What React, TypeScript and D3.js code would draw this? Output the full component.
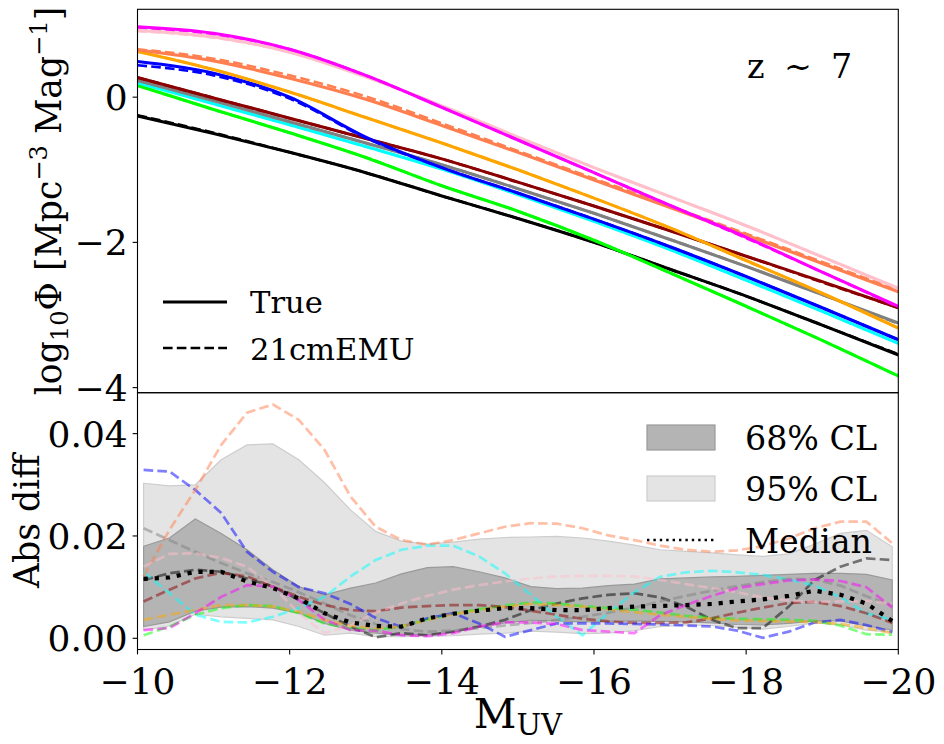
import React from "react";
import * as d3 from "d3";

// ---------- data ----------
// upper panel: log10 Phi at integer M_UV
const muvTop = [-10, -11, -12, -13, -14, -15, -16, -17, -18, -19, -20];

const trueMagenta = [0.97, 0.88, 0.66, 0.3, -0.14, -0.59, -1.04, -1.49, -1.93, -2.41, -2.88];
const truePink = [0.92, 0.83, 0.62, 0.28, -0.12, -0.55, -0.97, -1.37, -1.77, -2.2, -2.63];
const trueCoral = [0.65, 0.5, 0.26, -0.03, -0.39, -0.76, -1.14, -1.52, -1.9, -2.29, -2.68];
const trueOrange = [0.63, 0.38, 0.07, -0.28, -0.63, -1.0, -1.39, -1.8, -2.25, -2.7, -3.18];
const trueBlue = [0.49, 0.33, 0.0, -0.55, -0.97, -1.32, -1.68, -2.06, -2.47, -2.9, -3.34];
const trueMaroon = [0.27, -0.01, -0.29, -0.57, -0.85, -1.17, -1.5, -1.84, -2.19, -2.54, -2.9];
const trueGray = [0.23, -0.05, -0.34, -0.63, -0.93, -1.26, -1.6, -1.96, -2.33, -2.72, -3.11];
const trueCyan = [0.2, -0.09, -0.38, -0.68, -0.99, -1.34, -1.71, -2.1, -2.52, -2.95, -3.39];
const trueLime = [0.16, -0.17, -0.49, -0.83, -1.22, -1.57, -1.97, -2.42, -2.88, -3.35, -3.84];
const trueBlack = [-0.26, -0.5, -0.76, -1.04, -1.36, -1.67, -2.0, -2.37, -2.74, -3.14, -3.55];

const emuMagenta = [0.96, 0.87, 0.66, 0.3, -0.14, -0.59, -1.04, -1.49, -1.94, -2.41, -2.89];
const emuPink = [0.91, 0.82, 0.62, 0.28, -0.12, -0.55, -0.97, -1.37, -1.77, -2.2, -2.64];
const emuCoral = [0.66, 0.53, 0.3, 0.01, -0.36, -0.74, -1.12, -1.5, -1.88, -2.27, -2.66];
const emuOrange = [0.63, 0.38, 0.07, -0.28, -0.63, -1.0, -1.39, -1.8, -2.25, -2.7, -3.18];
const emuBlue = [0.44, 0.3, -0.02, -0.56, -0.97, -1.32, -1.68, -2.06, -2.47, -2.9, -3.34];
const emuMaroon = [0.27, -0.01, -0.29, -0.57, -0.85, -1.17, -1.5, -1.84, -2.19, -2.55, -2.9];
const emuGray = [0.24, -0.04, -0.34, -0.63, -0.93, -1.26, -1.6, -1.96, -2.33, -2.72, -3.12];
const emuCyan = [0.21, -0.09, -0.38, -0.68, -0.99, -1.34, -1.71, -2.1, -2.52, -2.95, -3.39];
const emuLime = [0.16, -0.17, -0.49, -0.83, -1.22, -1.57, -1.97, -2.42, -2.88, -3.35, -3.84];
const emuBlack = [-0.25, -0.49, -0.76, -1.04, -1.36, -1.67, -2.0, -2.37, -2.74, -3.14, -3.54];

// lower panel: abs diff on the emulator grid
const muvDiff = [
  -10.08, -10.42, -10.76, -11.1, -11.44, -11.78, -12.12, -12.46, -12.8, -13.13,
  -13.47, -13.81, -14.15, -14.49, -14.83, -15.17, -15.51, -15.85, -16.19, -16.53,
  -16.87, -17.21, -17.55, -17.88, -18.22, -18.56, -18.9, -19.24, -19.58, -19.92,
];

const diffCoral = [0.0121, 0.0212, 0.029, 0.0378, 0.0441, 0.0457, 0.0427, 0.0368, 0.0277, 0.0218, 0.0192, 0.0183, 0.0192, 0.0205, 0.0218, 0.0225, 0.0224, 0.0215, 0.0201, 0.0192, 0.0181, 0.0173, 0.0169, 0.0172, 0.018, 0.0195, 0.0215, 0.0228, 0.0228, 0.0186];
const diffBlue = [0.0329, 0.0326, 0.029, 0.0245, 0.0169, 0.013, 0.01, 0.0088, 0.0067, 0.004, 0.0022, 0.0039, 0.0049, 0.0029, 0.0003, 0.0016, 0.0029, 0.0029, 0.0029, 0.0028, 0.0027, 0.0025, 0.0023, 0.0015, 0.0001, 0.0013, 0.0031, 0.0036, 0.0026, 0.0012];
const diffCyan = [0.013, 0.0088, 0.0046, 0.0032, 0.0031, 0.0042, 0.0059, 0.0081, 0.0121, 0.0153, 0.0173, 0.0181, 0.0181, 0.016, 0.0127, 0.0085, 0.0042, 0.0006, 0.005, 0.009, 0.012, 0.0129, 0.0132, 0.0129, 0.0124, 0.0115, 0.0103, 0.008, 0.0049, 0.0036];
const diffGray = [0.0215, 0.0192, 0.0169, 0.0147, 0.0127, 0.011, 0.009, 0.0068, 0.0045, 0.0028, 0.0018, 0.0013, 0.0015, 0.002, 0.0025, 0.003, 0.0036, 0.0042, 0.005, 0.006, 0.0072, 0.0083, 0.0093, 0.0102, 0.011, 0.0116, 0.0115, 0.0103, 0.0082, 0.0065];
const diffBlack = [0.0114, 0.0127, 0.0134, 0.013, 0.0117, 0.0101, 0.0075, 0.0049, 0.0023, 0.0002, 0.001, 0.0006, 0.0013, 0.0023, 0.0036, 0.0055, 0.0068, 0.0078, 0.0085, 0.0088, 0.008, 0.0062, 0.0036, 0.002, 0.002, 0.0062, 0.0114, 0.014, 0.0156, 0.0153];
const diffMaroon = [0.0072, 0.0095, 0.0117, 0.0128, 0.0121, 0.0101, 0.0081, 0.0065, 0.0055, 0.0053, 0.006, 0.0063, 0.0065, 0.0065, 0.0061, 0.0054, 0.0046, 0.0038, 0.0033, 0.003, 0.003, 0.0031, 0.0039, 0.005, 0.006, 0.0069, 0.0071, 0.0063, 0.0049, 0.003];
const diffPink = [0.014, 0.0165, 0.0166, 0.0157, 0.014, 0.0101, 0.0049, 0.001, 0.0025, 0.005, 0.0068, 0.0083, 0.0095, 0.0104, 0.0111, 0.0117, 0.0121, 0.0122, 0.0122, 0.0121, 0.0114, 0.0106, 0.0098, 0.009, 0.008, 0.0074, 0.0071, 0.0072, 0.0073, 0.0068];
const diffMagenta = [0.0016, 0.002, 0.0049, 0.0081, 0.0104, 0.0101, 0.0075, 0.0036, 0.0016, 0.0015, 0.0006, 0.0004, 0.001, 0.0023, 0.0031, 0.0031, 0.0028, 0.0016, 0.0013, 0.001, 0.0045, 0.0065, 0.0083, 0.0098, 0.0106, 0.0113, 0.0115, 0.0112, 0.01, 0.006];
const diffOrange = [0.0036, 0.0046, 0.0055, 0.0065, 0.0065, 0.0062, 0.0052, 0.0036, 0.0024, 0.002, 0.0023, 0.0036, 0.0047, 0.0055, 0.0062, 0.0067, 0.0065, 0.0062, 0.0056, 0.0051, 0.0046, 0.0042, 0.0038, 0.0035, 0.0034, 0.0033, 0.0032, 0.0028, 0.002, 0.001];
const diffLime = [0.0006, 0.0023, 0.0046, 0.0059, 0.0065, 0.0063, 0.0049, 0.0029, 0.002, 0.0016, 0.0023, 0.0037, 0.0048, 0.0057, 0.0064, 0.007, 0.0068, 0.0063, 0.0059, 0.0056, 0.005, 0.0044, 0.004, 0.0038, 0.0037, 0.0036, 0.0034, 0.0025, 0.0008, 0.0007];

const medianDiff = [0.0116, 0.0119, 0.013, 0.013, 0.0111, 0.0098, 0.0078, 0.0049, 0.0031, 0.0024, 0.0023, 0.0039, 0.0048, 0.0054, 0.0059, 0.0059, 0.0055, 0.0055, 0.0059, 0.0062, 0.0063, 0.0065, 0.0067, 0.0072, 0.0076, 0.0083, 0.0093, 0.0085, 0.0068, 0.0034];
const band68Lo = [0.0023, 0.0032, 0.0053, 0.0061, 0.0062, 0.0059, 0.0049, 0.0029, 0.0016, 0.001, 0.0006, 0.0007, 0.0012, 0.0022, 0.003, 0.0035, 0.0034, 0.0032, 0.0033, 0.0034, 0.0033, 0.0032, 0.003, 0.0027, 0.0026, 0.0029, 0.0034, 0.0034, 0.0024, 0.0016];
const band68Hi = [0.018, 0.0196, 0.0233, 0.0205, 0.0173, 0.0134, 0.0101, 0.0085, 0.0098, 0.0108, 0.0126, 0.0138, 0.014, 0.013, 0.0118, 0.0101, 0.0097, 0.0098, 0.0103, 0.0106, 0.0116, 0.0118, 0.012, 0.0121, 0.0123, 0.0125, 0.0127, 0.0127, 0.0125, 0.0114];
const band95Lo = [0.0016, 0.0024, 0.0047, 0.0042, 0.0039, 0.0036, 0.0023, 0.0006, 0.001, 0.0003, 0.0003, 0.0004, 0.0005, 0.0008, 0.001, 0.0014, 0.0012, 0.0009, 0.001, 0.0015, 0.0023, 0.0026, 0.0025, 0.0022, 0.0018, 0.0023, 0.003, 0.0026, 0.0016, 0.0012];
const band95Hi = [0.0303, 0.0298, 0.03, 0.0349, 0.0378, 0.038, 0.0349, 0.0304, 0.0251, 0.0209, 0.019, 0.0184, 0.0188, 0.0194, 0.0197, 0.0198, 0.0199, 0.0196, 0.019, 0.0182, 0.0173, 0.017, 0.0167, 0.0163, 0.016, 0.0165, 0.0184, 0.0205, 0.0211, 0.0179];

const xTicks = [-10, -12, -14, -16, -18, -20];
const yTopTicks = [0, -2, -4];
const yBotTicks = [0, 0.02, 0.04];
const legendBands = ["68% CL", "95% CL"];

// ---------- layout ----------
const FONT = "'DejaVu Serif', serif";
const L = 137.5, R = 898.3, T = 9.3, MID = 392.7, B = 649.5;
const TICK_FS = 36;
const LABEL_FS = 34.6;

const models = [
  { color: "#000000", t: trueBlack, e: emuBlack, d: diffBlack },
  { color: "#00ff00", t: trueLime, e: emuLime, d: diffLime },
  { color: "#00ffff", t: trueCyan, e: emuCyan, d: diffCyan },
  { color: "#808080", t: trueGray, e: emuGray, d: diffGray },
  { color: "#8b0000", t: trueMaroon, e: emuMaroon, d: diffMaroon },
  { color: "#0000ff", t: trueBlue, e: emuBlue, d: diffBlue },
  { color: "#ffa500", t: trueOrange, e: emuOrange, d: diffOrange },
  { color: "#ff7f50", t: trueCoral, e: emuCoral, d: diffCoral },
  { color: "#ffc0cb", t: truePink, e: emuPink, d: diffPink },
  { color: "#ff00ff", t: trueMagenta, e: emuMagenta, d: diffMagenta },
];

const minus = (s: string) => s.replace("-", "\u2212");

export default function App() {
  const x = d3.scaleLinear().domain([-10, -20]).range([L, R]);
  const yTop = d3.scaleLinear().domain([-4.07, 1.21]).range([MID, T]);
  const yBot = d3.scaleLinear().domain([-0.00219, 0.048]).range([B, MID]);

  const topLine = d3
    .line<number>()
    .x((_, i) => x(muvTop[i]))
    .y((d) => yTop(d))
    .curve(d3.curveMonotoneX);
  const botLine = d3
    .line<number>()
    .x((_, i) => x(muvDiff[i]))
    .y((d) => yBot(d));
  const band = (lo: number[], hi: number[]) =>
    d3
      .area<number>()
      .x((i) => x(muvDiff[i]))
      .y0((i) => yBot(lo[i]))
      .y1((i) => yBot(hi[i]))(d3.range(muvDiff.length)) as string;

  const tickLen = 4.9;

  return (
    <div style={{ position: "absolute", left: 0, top: 0 }}>
      <svg width={944} height={744} style={{ display: "block", background: "#fff" }} fontFamily={FONT}>
        <defs>
          <clipPath id="clipTop">
            <rect x={L} y={T} width={R - L} height={MID - T} />
          </clipPath>
          <clipPath id="clipBot">
            <rect x={L} y={MID} width={R - L} height={B - MID} />
          </clipPath>
        </defs>

        {/* upper panel curves */}
        <g clipPath="url(#clipTop)" fill="none">
          {models.map((m, k) => (
            <g key={k}>
              <path d={topLine(m.t) as string} stroke={m.color} strokeWidth={3.1} />
              <path d={topLine(m.e) as string} stroke={m.color} strokeWidth={2.6} strokeDasharray="9.6,4.2" />
            </g>
          ))}
        </g>

        {/* lower panel */}
        <g clipPath="url(#clipBot)">
          <path d={band(band95Lo, band95Hi)} fill="#e4e4e4" stroke="#cdcdcd" strokeWidth={1.2} />
          <path d={band(band68Lo, band68Hi)} fill="#b4b4b4" stroke="#9a9a9a" strokeWidth={1.2} />
          {models.map((m, k) => (
            <path
              key={k}
              d={botLine(m.d) as string}
              fill="none"
              stroke={m.color}
              strokeOpacity={0.5}
              strokeWidth={2.7}
              strokeDasharray="9.6,4.2"
            />
          ))}
          <path d={botLine(medianDiff) as string} fill="none" stroke="#000" strokeWidth={4.2} strokeDasharray="4.2,6.9" />
        </g>

        {/* frames */}
        <rect x={L} y={T} width={R - L} height={MID - T} fill="none" stroke="#000" strokeWidth={1.1} />
        <rect x={L} y={MID} width={R - L} height={B - MID} fill="none" stroke="#000" strokeWidth={1.1} />

        {/* upper y axis */}
        {yTopTicks.map((t) => (
          <g key={t} transform={`translate(0,${yTop(t)})`}>
            <line x1={L - tickLen} x2={L} stroke="#000" strokeWidth={1.1} />
            <text x={L - tickLen - 4.9} dy="0.36em" textAnchor="end" fontSize={TICK_FS}>
              {minus(String(t))}
            </text>
          </g>
        ))}

        {/* lower y axis */}
        {yBotTicks.map((t) => (
          <g key={t} transform={`translate(0,${yBot(t)})`}>
            <line x1={L - tickLen} x2={L} stroke="#000" strokeWidth={1.1} />
            <text x={L - tickLen - 4.9} dy="0.36em" textAnchor="end" fontSize={TICK_FS}>
              {d3.format(".2f")(t)}
            </text>
          </g>
        ))}

        {/* x axis */}
        {xTicks.map((t) => (
          <g key={t} transform={`translate(${x(t)},0)`}>
            <line y1={B} y2={B + tickLen} stroke="#000" strokeWidth={1.1} />
            <text y={694} textAnchor="middle" fontSize={TICK_FS}>
              {minus(String(t))}
            </text>
          </g>
        ))}

        {/* axis labels */}
        <text x={(L + R) / 2} y={728} textAnchor="middle" fontSize={41.7}>
          M
          <tspan fontSize={29.2} dy={7}>
            UV
          </tspan>
        </text>
        <text transform={`translate(61,${(T + MID) / 2}) rotate(-90)`} textAnchor="middle" fontSize={LABEL_FS}>
          log
          <tspan fontSize={24.2} dy={7}>10</tspan>
          <tspan dy={-7}>{"\u03A6 [Mpc"}</tspan>
          <tspan fontSize={24.2} dy={-14}>{"\u22123"}</tspan>
          <tspan dy={14}>{" Mag"}</tspan>
          <tspan fontSize={24.2} dy={-14}>{"\u22121"}</tspan>
          <tspan dy={14}>]</tspan>
        </text>
        <text transform={`translate(39,${(MID + B) / 2}) rotate(-90)`} textAnchor="middle" fontSize={LABEL_FS}>
          Abs diff
        </text>

        {/* redshift annotation */}
        <text x={747} y={78} fontSize={33.3}>
          z<tspan x={784}>{"\u223C"}</tspan>
          <tspan x={831}>7</tspan>
        </text>

        {/* upper legend */}
        <line x1={163} x2={227} y1={302} y2={302} stroke="#000" strokeWidth={3.1} />
        <line x1={163} x2={227} y1={348} y2={348} stroke="#000" strokeWidth={2.6} strokeDasharray="9.6,4.2" />
        <text x={250} y={313} fontSize={30.6}>True</text>
        <text x={250} y={360} fontSize={30.6}>21cmEMU</text>

        {/* lower legend */}
        <rect x={647} y={425} width={68} height={25} fill="#b4b4b4" stroke="#9a9a9a" strokeWidth={1.2} />
        <rect x={647} y={476} width={68} height={25} fill="#e4e4e4" stroke="#cdcdcd" strokeWidth={1.2} />
        <line x1={647} x2={715} y1={540} y2={540} stroke="#000" strokeWidth={2.4} strokeDasharray="2.4,4" />
        <text x={745} y={450} fontSize={33.3}>{legendBands[0]}</text>
        <text x={745} y={501} fontSize={33.3}>{legendBands[1]}</text>
        <text x={745} y={553} fontSize={33.3}>Median</text>
      </svg>
    </div>
  );
}
